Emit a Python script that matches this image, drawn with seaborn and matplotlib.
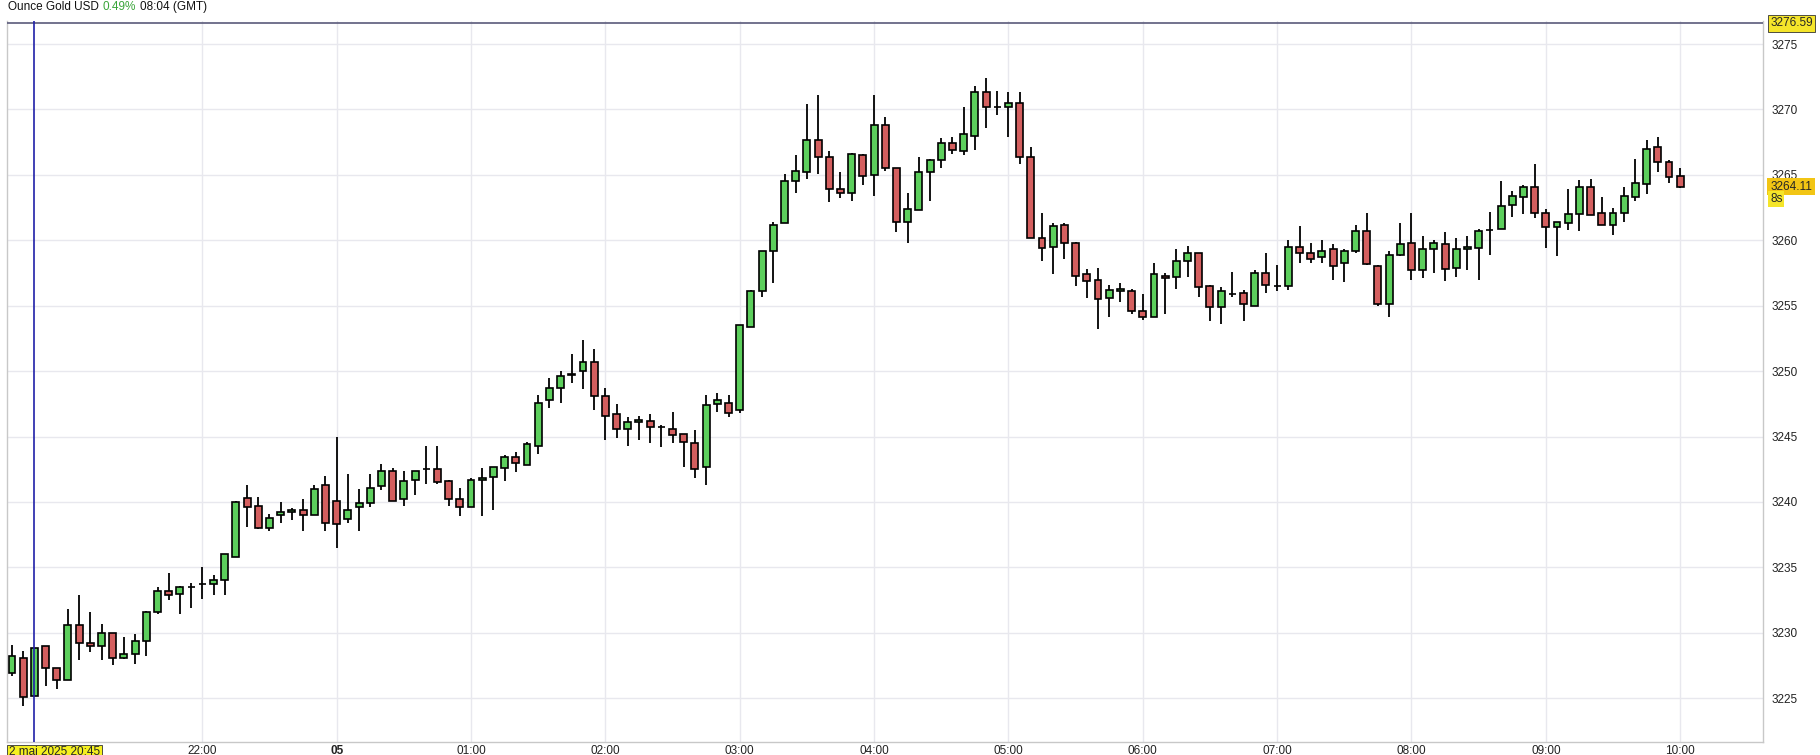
import numpy as np
import matplotlib
matplotlib.use("Agg")
import matplotlib.pyplot as plt
import matplotlib.transforms as mtransforms
import seaborn as sns

# ── Data: 5-minute candles, 2 mai 20:35 → 5 mai 10:00 ─────────────────────────
opens = [3226.9, 3228.1, 3225.2, 3229.0, 3227.3, 3226.4, 3230.6, 3229.2, 3229.0, 3230.0,
         3228.1, 3228.4, 3229.4, 3231.6, 3233.2, 3233.0, 3233.5, 3233.7, 3233.7, 3234.0,
         3235.8, 3240.3, 3239.7, 3238.0, 3239.0, 3239.2, 3239.4, 3239.0, 3241.3, 3240.1,
         3238.7, 3239.6, 3239.9, 3241.2, 3242.4, 3240.2, 3241.7, 3242.5, 3242.5, 3241.6,
         3240.2, 3239.6, 3241.7, 3241.9, 3242.6, 3243.4, 3242.8, 3244.3, 3247.8, 3248.7,
         3249.7, 3250.0, 3250.7, 3248.1, 3246.7, 3245.6, 3246.1, 3246.2, 3245.7, 3245.6,
         3245.2, 3244.5, 3242.7, 3247.5, 3247.6, 3247.0, 3253.4, 3256.1, 3259.2, 3261.3,
         3264.5, 3265.2, 3267.7, 3266.4, 3263.9, 3263.6, 3266.5, 3265.0, 3268.8, 3265.5,
         3261.4, 3262.3, 3265.2, 3266.1, 3267.4, 3266.8, 3268.0, 3271.3, 3270.2, 3270.2,
         3270.5, 3266.4, 3260.2, 3259.5, 3261.2, 3259.8, 3257.4, 3257.0, 3255.6, 3256.1,
         3256.1, 3254.6, 3254.1, 3257.3, 3257.2, 3258.4, 3259.0, 3256.5, 3254.9, 3255.9,
         3256.0, 3255.0, 3257.5, 3256.5, 3256.5, 3259.5, 3259.0, 3258.7, 3259.3, 3258.3,
         3259.2, 3260.7, 3258.0, 3255.1, 3258.9, 3259.8, 3257.7, 3259.3, 3259.7, 3257.9,
         3259.3, 3259.4, 3260.8, 3260.9, 3262.7, 3263.3, 3264.1, 3262.1, 3261.0, 3261.3,
         3262.0, 3264.1, 3262.1, 3261.2, 3262.1, 3263.3, 3264.3, 3267.1, 3266.0, 3264.9]
highs = [3229.1, 3228.6, 3228.8, 3229.0, 3227.3, 3231.8, 3232.9, 3231.6, 3230.7, 3230.0,
         3229.7, 3229.9, 3231.7, 3233.5, 3234.6, 3233.6, 3233.8, 3235.0, 3234.4, 3236.0,
         3240.1, 3241.3, 3240.4, 3239.1, 3240.0, 3239.5, 3240.2, 3241.3, 3242.0, 3245.0,
         3242.1, 3241.0, 3242.1, 3242.9, 3242.6, 3242.4, 3242.4, 3244.3, 3244.3, 3241.7,
         3241.1, 3241.8, 3242.6, 3242.7, 3243.6, 3243.8, 3244.6, 3248.2, 3249.5, 3250.0,
         3251.3, 3252.4, 3251.7, 3248.7, 3247.5, 3246.5, 3246.6, 3246.7, 3245.9, 3246.9,
         3245.2, 3245.5, 3248.2, 3248.3, 3248.2, 3253.5, 3256.2, 3259.2, 3261.4, 3265.1,
         3266.5, 3270.4, 3271.1, 3266.8, 3265.2, 3266.7, 3266.6, 3271.1, 3269.4, 3265.5,
         3263.6, 3266.4, 3266.2, 3267.8, 3267.9, 3270.2, 3271.8, 3272.4, 3271.4, 3271.3,
         3271.3, 3267.1, 3262.1, 3261.3, 3261.3, 3259.9, 3257.8, 3257.9, 3256.6, 3256.7,
         3256.3, 3255.9, 3258.3, 3257.5, 3259.3, 3259.6, 3259.0, 3256.6, 3256.4, 3257.6,
         3256.2, 3257.7, 3259.0, 3258.1, 3260.0, 3261.1, 3259.8, 3260.0, 3259.7, 3259.3,
         3261.2, 3262.1, 3258.1, 3259.2, 3261.3, 3262.1, 3260.3, 3260.0, 3260.6, 3260.2,
         3260.3, 3260.9, 3262.2, 3264.5, 3263.8, 3264.2, 3265.8, 3262.4, 3261.4, 3263.9,
         3264.6, 3264.7, 3263.3, 3262.5, 3264.1, 3266.2, 3267.7, 3267.9, 3266.1, 3265.5]
lows = [3226.7, 3224.4, 3225.2, 3225.9, 3225.7, 3226.4, 3227.9, 3228.5, 3227.9, 3227.5,
        3228.0, 3227.6, 3228.2, 3231.4, 3232.5, 3231.4, 3231.9, 3232.6, 3232.9, 3232.9,
        3235.8, 3238.1, 3237.9, 3237.8, 3238.4, 3238.6, 3237.8, 3239.0, 3237.8, 3236.5,
        3238.4, 3237.8, 3239.6, 3240.9, 3240.1, 3239.7, 3240.5, 3241.4, 3241.4, 3239.7,
        3238.9, 3239.6, 3238.9, 3239.4, 3241.6, 3242.3, 3242.8, 3243.7, 3247.2, 3247.6,
        3249.1, 3248.6, 3247.0, 3244.7, 3244.9, 3244.3, 3244.7, 3244.5, 3244.2, 3244.5,
        3242.7, 3241.8, 3241.3, 3246.9, 3246.5, 3246.8, 3253.4, 3255.7, 3256.7, 3261.3,
        3263.6, 3264.7, 3265.1, 3262.9, 3263.2, 3263.0, 3264.2, 3263.4, 3265.3, 3260.6,
        3259.8, 3262.3, 3263.0, 3265.5, 3266.6, 3266.5, 3266.9, 3268.6, 3269.6, 3267.9,
        3265.8, 3260.2, 3258.4, 3257.4, 3258.6, 3256.5, 3255.6, 3253.2, 3254.1, 3255.3,
        3254.4, 3253.9, 3254.1, 3254.4, 3256.3, 3257.2, 3255.7, 3253.8, 3253.6, 3255.7,
        3253.8, 3255.0, 3256.0, 3256.1, 3256.2, 3258.3, 3258.3, 3258.3, 3257.0, 3256.8,
        3259.0, 3258.1, 3255.0, 3254.1, 3258.8, 3257.0, 3257.1, 3257.5, 3256.9, 3257.2,
        3257.7, 3257.0, 3258.9, 3260.9, 3261.8, 3262.0, 3261.7, 3259.4, 3258.8, 3260.8,
        3260.7, 3261.9, 3261.2, 3260.4, 3261.4, 3263.0, 3263.5, 3265.2, 3264.4, 3264.0]
closes = [3228.2, 3225.1, 3228.8, 3227.3, 3226.4, 3230.6, 3229.2, 3229.0, 3230.0, 3228.1,
          3228.4, 3229.4, 3231.6, 3233.2, 3232.9, 3233.5, 3233.5, 3233.7, 3234.0, 3236.0,
          3240.0, 3239.6, 3238.0, 3238.8, 3239.2, 3239.4, 3239.0, 3241.0, 3238.4, 3238.3,
          3239.4, 3239.9, 3241.1, 3242.4, 3240.1, 3241.6, 3242.4, 3242.5, 3241.5, 3240.2,
          3239.6, 3241.7, 3241.8, 3242.7, 3243.4, 3243.0, 3244.4, 3247.6, 3248.7, 3249.6,
          3249.8, 3250.7, 3248.1, 3246.6, 3245.6, 3246.1, 3246.3, 3245.7, 3245.7, 3245.1,
          3244.6, 3242.5, 3247.4, 3247.8, 3246.8, 3253.5, 3256.1, 3259.2, 3261.2, 3264.5,
          3265.3, 3267.7, 3266.4, 3263.9, 3263.6, 3266.6, 3264.9, 3268.8, 3265.5, 3261.4,
          3262.4, 3265.2, 3266.1, 3267.4, 3266.9, 3268.1, 3271.3, 3270.2, 3270.2, 3270.5,
          3266.4, 3260.2, 3259.4, 3261.1, 3259.8, 3257.3, 3256.9, 3255.5, 3256.2, 3256.3,
          3254.6, 3254.1, 3257.4, 3257.1, 3258.4, 3259.0, 3256.4, 3254.9, 3256.1, 3255.9,
          3255.1, 3257.5, 3256.6, 3256.5, 3259.5, 3259.0, 3258.6, 3259.2, 3258.0, 3259.2,
          3260.7, 3258.2, 3255.1, 3258.9, 3259.7, 3257.7, 3259.3, 3259.8, 3257.8, 3259.3,
          3259.5, 3260.7, 3260.8, 3262.6, 3263.4, 3264.1, 3262.1, 3261.0, 3261.4, 3262.0,
          3264.1, 3261.9, 3261.2, 3262.1, 3263.4, 3264.4, 3267.0, 3266.0, 3264.8, 3264.1]

tick_pos = [17, 29, 41, 53, 65, 77, 89, 101, 113, 125, 137, 149]
tick_labels = ['22:00', '05', '01:00', '02:00', '03:00', '04:00', '05:00',
               '06:00', '07:00', '08:00', '09:00', '10:00']
y_ticks = [3225, 3230, 3235, 3240, 3245, 3250, 3255, 3260, 3265, 3270, 3275]
cursor_idx = 2
cursor_label = '2 mai 2025 20:45'
top_price = 3276.59
last_price = 3264.11

# ── Style ─────────────────────────────────────────────────────────────────────
sns.set_style('white')
plt.rcParams['font.family'] = ['Liberation Sans', 'DejaVu Sans']
UP, DOWN = '#5ccf5c', '#d45f5f'
FS = 8.5

fig = plt.figure(figsize=(18.2, 7.55), dpi=100)
ax = fig.add_axes([0.004, 0.017, 0.9647, 0.955])

o = np.array(opens); h = np.array(highs); l = np.array(lows); c = np.array(closes)
x = np.arange(len(o))
colors = np.where(c >= o, UP, DOWN)

ax.vlines(x, l, h, color='black', linewidth=1.3, zorder=2)
ax.bar(x, c - o, bottom=o, width=0.62, color=colors, edgecolor='black',
       linewidth=1.2, zorder=3)

ax.set_xlim(-0.42, 156.4)
ax.set_ylim(3221.64, 3276.75)

# grid
for t in tick_pos:
    ax.axvline(t, color='#e8e8ee', linewidth=1, zorder=0)
for t in y_ticks:
    ax.axhline(t, color='#e8e8ee', linewidth=1, zorder=0)

ax.axhline(top_price, color='#5a5a7a', linewidth=1.2, zorder=4)
ax.axvline(cursor_idx, color='#2020a8', linewidth=1.2, zorder=4)

ax.spines['top'].set_visible(False)
for s in ['left', 'right', 'bottom']:
    ax.spines[s].set_color('#c8c8c8')
    ax.spines[s].set_linewidth(1)

# x ticks
ax.set_xticks(tick_pos)
ax.set_xticklabels(tick_labels, fontsize=FS, color='#222222')
ax.get_xticklabels()[1].set_fontweight('bold')
ax.tick_params(axis='x', length=0, pad=2)

# y ticks on right
ax.yaxis.tick_right()
ax.set_yticks(y_ticks)
ax.set_yticklabels([str(v) for v in y_ticks], fontsize=FS, color='#222222')
ax.tick_params(axis='y', length=0, pad=6)

# price boxes
right = mtransforms.blended_transform_factory(ax.transAxes, ax.transData)
ax.text(1.004, top_price, f'{top_price:.2f}', transform=right,
        fontsize=FS, va='center', ha='left', zorder=6,
        bbox=dict(boxstyle='square,pad=0.2', facecolor='#f5e52a', edgecolor='#333333', linewidth=0.6))
ax.text(1.004, last_price, f'{last_price:.2f}', transform=right,
        fontsize=FS, va='center', ha='left', zorder=6,
        bbox=dict(boxstyle='square,pad=0.25', facecolor='#f2c514', edgecolor='none'))
ax.text(1.004, last_price - 0.95, '8s', transform=right,
        fontsize=FS, va='center', ha='left', zorder=6,
        bbox=dict(boxstyle='square,pad=0.15', facecolor='#f5e52a', edgecolor='none'))

# cursor date box
ax.text(-0.3, -0.006, cursor_label,
        transform=mtransforms.blended_transform_factory(ax.transData, ax.transAxes),
        fontsize=FS, va='top', ha='left', zorder=6,
        bbox=dict(boxstyle='square,pad=0.15', facecolor='#f5f020', edgecolor='#333333', linewidth=0.6))

# header, pieces laid out one after another
renderer = fig.canvas.get_renderer()
xpos = 8
for txt, col in [('Ounce Gold USD', '#111111'), ('0.49%', '#3aa53a'), ('08:04 (GMT)', '#111111')]:
    t = fig.text(xpos / 1820, 0.991, txt, fontsize=FS, va='center', ha='left', color=col)
    xpos += t.get_window_extent(renderer).width + 4

fig.savefig('out.png', dpi=100, facecolor='white')
